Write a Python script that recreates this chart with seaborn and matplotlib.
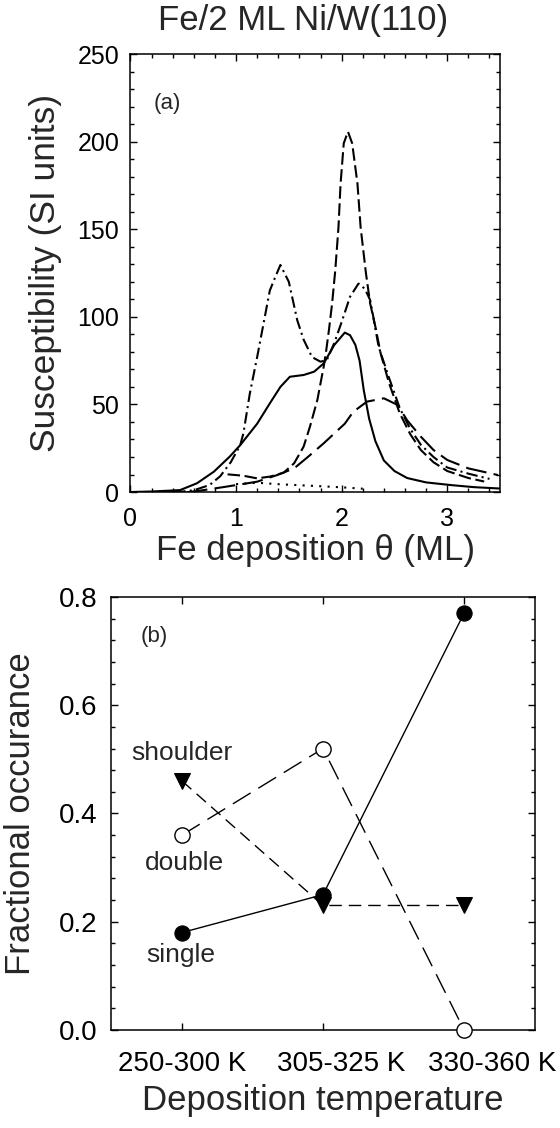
import matplotlib
matplotlib.use("Agg")
import matplotlib.pyplot as plt
from matplotlib.ticker import MultipleLocator, FormatStrFormatter
from matplotlib.transforms import ScaledTranslation
import seaborn as sns
import pandas as pd

# (a) susceptibility curves
theta_solid = [0.0, 0.2, 0.47, 0.63, 0.79, 0.94, 1.04, 1.2, 1.32, 1.42, 1.51, 1.64, 1.74, 1.83,
               1.93, 2.03, 2.08, 2.13, 2.17, 2.21, 2.26, 2.32, 2.4, 2.5, 2.62, 2.8, 3.03, 3.25, 3.5]
chi_solid = [0, 0.3, 1.1, 5, 11.6, 20.2, 26.8, 39, 50.6, 60, 65.8, 66.8, 68.7, 73.4,
             83.9, 91, 89.5, 84, 75, 58, 42, 29, 18, 12, 8, 5.5, 4, 2.8, 2]

theta_dashdot = [0.0, 0.45, 0.6, 0.75, 0.85, 0.95, 1.04, 1.07, 1.13, 1.2, 1.26, 1.32, 1.36, 1.42,
                 1.5, 1.58, 1.64, 1.72, 1.8, 1.86, 1.93, 2.0, 2.08, 2.16, 2.22, 2.27, 2.3, 2.35,
                 2.45, 2.55, 2.65, 2.75, 2.87, 3.0, 3.2, 3.4]
chi_dashdot = [0, 0, 1, 4, 9, 17, 26.8, 33.5, 56, 77, 96, 115, 121, 129.6,
               120, 98, 87, 77, 74.4, 75.3, 85, 97, 111.5, 119, 116, 109.6, 100, 83,
               65, 48, 36, 27, 20, 14, 10.5, 7.5]

theta_short = [0.92, 1.07, 1.2, 1.32, 1.45, 1.55, 1.64, 1.7, 1.77, 1.83, 1.85, 1.88, 1.91, 1.94,
               1.97, 1.99, 2.02, 2.06, 2.1, 2.15, 2.18, 2.23, 2.27, 2.32, 2.37, 2.45, 2.55,
               2.65, 2.75, 2.87, 3.0, 3.2, 3.35]
chi_short = [10.1, 9.3, 7.8, 8.8, 11, 16.4, 25.9, 37.3, 52.5, 71.5, 79, 92.5, 107.7, 126.7,
             151, 176, 199, 205.7, 199, 176, 151, 125, 107.7, 94.3, 79, 62, 45,
             33, 24, 17, 12, 8, 6]

theta_long = [0.0, 0.55, 0.66, 0.9, 1.2, 1.39, 1.55, 1.68, 1.83, 2.03, 2.11, 2.24, 2.4, 2.53,
              2.62, 2.75, 2.87, 3.0, 3.2, 3.48]
chi_long = [0, 0, 0.8, 3, 5.9, 9.7, 13.5, 20, 27.8, 39, 45.8, 51.6, 53.5, 49.7,
            41, 31.6, 24, 18.3, 13.5, 9.7]

theta_dot = [1.0, 1.2, 1.42, 1.77, 2.0, 2.2]
chi_dot = [4.5, 5.3, 4.4, 3.4, 2.7, 1.9]

# (b) fractional occurance
temps = ["250-300 K", "305-325 K", "330-360 K"]
single = [0.18, 0.25, 0.77]
double = [0.36, 0.52, 0.0]
shoulder = [0.46, 0.23, 0.23]


def main():
    sns.set_style("ticks")
    plt.rcParams["font.family"] = ["Liberation Sans", "DejaVu Sans"]

    curves = [("solid", theta_solid, chi_solid), ("dashdot", theta_dashdot, chi_dashdot),
              ("short", theta_short, chi_short), ("long", theta_long, chi_long),
              ("dot", theta_dot, chi_dot)]
    rows = []
    for name, xs, ys in curves:
        for x, y in zip(xs, ys):
            rows.append({"theta": x, "chi": y, "curve": name})
    df_a = pd.DataFrame(rows)

    fig = plt.figure(figsize=(5.6, 11.28), dpi=100)
    ax1 = fig.add_axes([0.2329, 0.5638, 0.66, 0.3883])
    ax2 = fig.add_axes([0.199, 0.0869, 0.7557, 0.3839])

    dashes = {"solid": "", "dashdot": (5.5, 2, 1, 2), "short": (6, 2.2),
              "long": (10, 3.5), "dot": (1, 3)}
    sns.lineplot(data=df_a, x="theta", y="chi", hue="curve", style="curve",
                 palette=["black"] * 5, dashes=dashes, estimator=None, sort=False,
                 linewidth=1.5, legend=False, ax=ax1)

    ax1.set_xlim(0, 3.5)
    ax1.set_ylim(0, 250)
    ax1.set_xticks([0, 1, 2, 3])
    ax1.xaxis.set_minor_locator(MultipleLocator(0.2))
    ax1.yaxis.set_major_locator(MultipleLocator(50))
    ax1.yaxis.set_minor_locator(MultipleLocator(10))
    ax1.set_xlabel("Fe deposition \u03b8 (ML)", fontsize=25)
    ax1.set_ylabel("Susceptibility (SI units)", fontsize=25.5)
    ax1.xaxis.set_label_coords(0.5, -0.095)
    ax1.yaxis.set_label_coords(-0.184, 0.5)
    ax1.text(0.35, 222, "(a)", fontsize=16, ha="center", va="center")

    # (b)
    df_b = pd.DataFrame({"temp": temps, "single": single, "double": double, "shoulder": shoulder})
    sns.lineplot(data=df_b, x="temp", y="shoulder", sort=False, color="black", linewidth=1.0,
                 linestyle=(0, (9, 5)), marker="v", markersize=11, markerfacecolor="black",
                 markeredgecolor="black", clip_on=False, ax=ax2)
    sns.lineplot(data=df_b, x="temp", y="double", sort=False, color="black", linewidth=1.0,
                 linestyle=(0, (15, 6.5)), marker="o", markersize=11, markerfacecolor="white",
                 markeredgecolor="black", markeredgewidth=1.0, clip_on=False, zorder=3, ax=ax2)
    sns.lineplot(data=df_b, x="temp", y="single", sort=False, color="black", linewidth=1.0,
                 marker="o", markersize=11, markerfacecolor="black",
                 markeredgecolor="black", clip_on=False, ax=ax2)

    ax2.set_xlim(-0.5, 2.5)
    ax2.set_ylim(0, 0.8)
    ax2.yaxis.set_major_locator(MultipleLocator(0.2))
    ax2.yaxis.set_minor_locator(MultipleLocator(0.04))
    ax2.yaxis.set_major_formatter(FormatStrFormatter("%.1f"))
    ax2.set_xlabel("Deposition temperature", fontsize=25)
    ax2.set_ylabel("Fractional occurance", fontsize=25)
    ax2.xaxis.set_label_coords(0.5, -0.125)
    ax2.yaxis.set_label_coords(-0.175, 0.5)
    ax2.text(-0.2, 0.726, "(b)", fontsize=16, ha="center", va="center")
    ax2.text(0.0, 0.511, "shoulder", fontsize=19, ha="center", va="center")
    ax2.text(0.02, 0.308, "double", fontsize=19, ha="center", va="center")
    ax2.text(-0.01, 0.139, "single", fontsize=19, ha="center", va="center")

    for ax in (ax1, ax2):
        ax.tick_params(which="both", direction="in", top=True, right=True, width=1.0, colors="black")
        ax.tick_params(which="major", length=5)
        ax.tick_params(which="minor", length=3)
        for sp in ax.spines.values():
            sp.set_linewidth(1.1)
            sp.set_color("black")
    ax1.tick_params(axis="x", which="major", pad=11)
    ax1.tick_params(axis="y", which="major", pad=8)
    ax1.tick_params(which="both", labelsize=18)
    ax2.tick_params(axis="x", which="major", pad=15)
    ax2.tick_params(axis="y", which="major", pad=10)
    ax2.tick_params(which="both", labelsize=20)

    # the category labels in the original sit progressively right of their ticks
    for lab, dx in zip(ax2.get_xticklabels(), [0.0, 0.18, 0.28]):
        lab.set_transform(lab.get_transform() + ScaledTranslation(dx, 0, fig.dpi_scale_trans))

    fig.text(0.542, 0.982, "Fe/2 ML Ni/W(110)", fontsize=25, ha="center", va="center")
    fig.savefig("out.png", dpi=100)


if __name__ == "__main__":
    main()
